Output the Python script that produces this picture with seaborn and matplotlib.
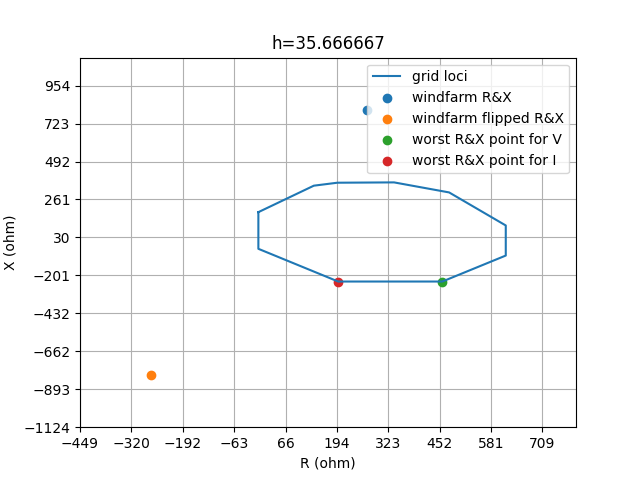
import matplotlib
matplotlib.use("Agg")
import matplotlib.pyplot as plt
import seaborn as sns
import pandas as pd

# grid loci polygon (R, X)
loci_R = [-2, -2, 198, 459, 618, 618, 476, 338, 196, 137, -2]
loci_X = [184, -39, -238, -238, -80, 103, 304, 365, 363, 345, 184]

windfarm_R = [270]
windfarm_X = [807]
flipped_R = [-270]
flipped_X = [-807]
worstV_R = [459]
worstV_X = [-238]
worstI_R = [198]
worstI_X = [-238]

xticks = [-449, -320, -192, -63, 66, 194, 323, 452, 581, 709]
yticks = [-1124, -893, -662, -432, -201, 30, 261, 492, 723, 954]

fig, ax = plt.subplots(figsize=(6.4, 4.8), dpi=100)
cols = sns.color_palette("tab10")

loci = pd.DataFrame({"R": loci_R, "X": loci_X})
sns.lineplot(data=loci, x="R", y="X", sort=False, estimator=None, ax=ax,
             color=cols[0], label="grid loci")
series = [
    (windfarm_R, windfarm_X, cols[0], "windfarm R&X"),
    (flipped_R, flipped_X, cols[1], "windfarm flipped R&X"),
    (worstV_R, worstV_X, cols[2], "worst R&X point for V"),
    (worstI_R, worstI_X, cols[3], "worst R&X point for I"),
]
for r, x, c, lab in series:
    sns.scatterplot(x=r, y=x, ax=ax, color=c, s=36, edgecolor=c,
                    linewidth=1, label=lab)

ax.set_xlim(-449, 794)
ax.set_ylim(-1124, 1124)
ax.set_xticks(xticks)
ax.set_xticklabels([str(v).replace("-", "\u2212") for v in xticks])
ax.set_yticks(yticks)
ax.set_yticklabels([str(v).replace("-", "\u2212") for v in yticks])
ax.grid(True)
ax.set_axisbelow(True)
ax.set_xlabel("R (ohm)")
ax.set_ylabel("X (ohm)")
ax.set_title("h=35.666667")
ax.legend(loc="upper right")

fig.savefig("out.png", dpi=100)
